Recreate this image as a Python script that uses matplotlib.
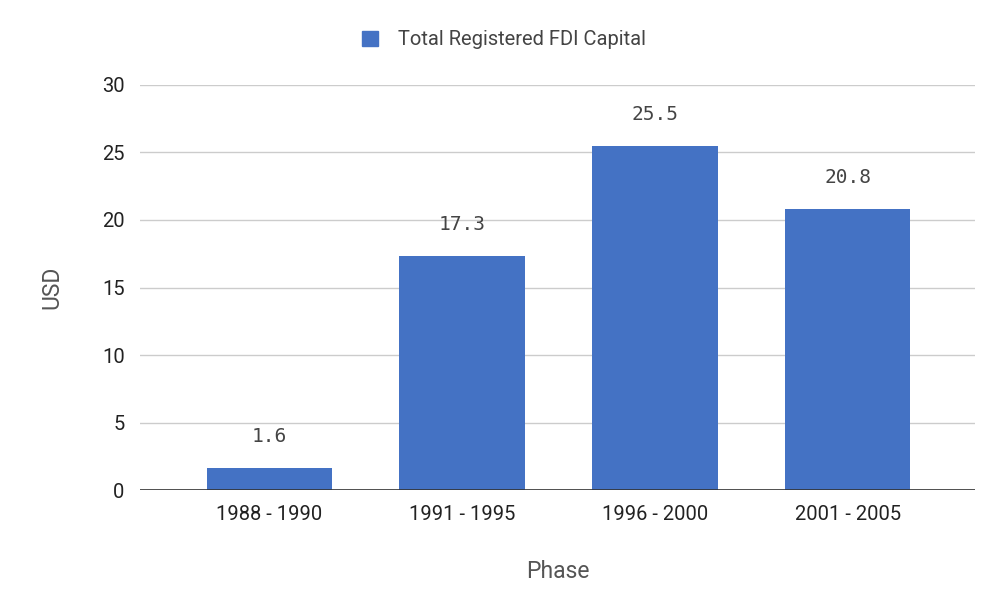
import matplotlib
matplotlib.use("Agg")
from matplotlib import pyplot as plt
from matplotlib.patches import Patch

phases = ["1988 - 1990", "1991 - 1995", "1996 - 2000", "2001 - 2005"]
fdi_capital = [1.6, 17.3, 25.5, 20.8]
y_ticks = [0, 5, 10, 15, 20, 25, 30]

bar_color = "#4472C4"

plt.rcParams["font.family"] = ["Roboto", "DejaVu Sans"]

fig = plt.figure(figsize=(10, 6.04), dpi=100)
ax = fig.add_axes([0.14, 0.1887, 0.835, 0.6706])

x = list(range(len(phases)))
bars = ax.bar(x, fdi_capital, width=0.65, color=bar_color, zorder=3)

for xi, v in zip(x, fdi_capital):
    ax.annotate(f"{v}", (xi, v), xytext=(0, 16), textcoords="offset points",
                ha="center", va="bottom", fontsize=14, color="#444444",
                family="DejaVu Sans Mono")

ax.set_xlim(-0.67, 3.66)
ax.set_ylim(0, 30)
ax.set_yticks(y_ticks)
ax.set_xticks(x)
ax.set_xticklabels(phases)
ax.grid(axis="y", color="#cccccc", linewidth=1, zorder=0)
ax.axhline(0, color="#333333", linewidth=1.2, zorder=4)
for s in ax.spines.values():
    s.set_visible(False)
ax.tick_params(axis="both", length=0, labelsize=14.5, colors="#222222")
ax.tick_params(axis="x", pad=11)
ax.tick_params(axis="y", pad=11)

ax.set_xlabel("Phase", fontsize=16.5, color="#555555", labelpad=26)
ax.set_ylabel("USD", fontsize=16.5, color="#555555", labelpad=28)

handle = Patch(facecolor=bar_color, edgecolor=bar_color)
fig.legend([handle], ["Total Registered FDI Capital"], loc="center",
           bbox_to_anchor=(0.504, 0.934), frameon=False, fontsize=14.5,
           labelcolor="#444444", handlelength=0.8, handleheight=0.8,
           handletextpad=0.95)

fig.savefig("out.png", dpi=100)
